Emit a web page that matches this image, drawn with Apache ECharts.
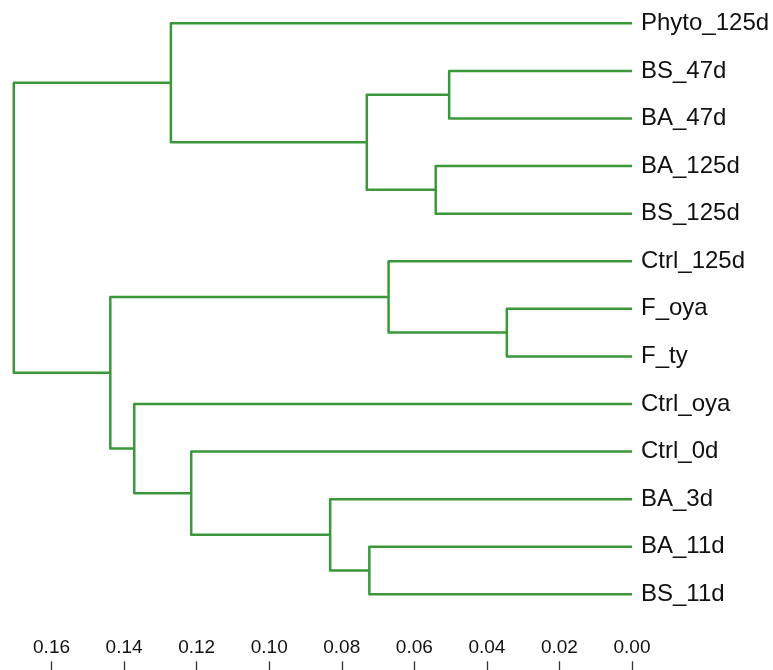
<!DOCTYPE html>
<html>
<head>
<meta charset="utf-8">
<title>Dendrogram</title>
<script src="https://cdn.jsdelivr.net/npm/echarts@6/dist/echarts.min.js"></script>
<style>
  html, body { margin: 0; padding: 0; background: #fff; }
  #main { width: 773px; height: 670px; }
</style>
</head>
<body>
<div id="main"></div>
<script>
// leaves, top to bottom
const leaves = ['Phyto_125d', 'BS_47d', 'BA_47d', 'BA_125d', 'BS_125d', 'Ctrl_125d',
  'F_oya', 'F_ty', 'Ctrl_oya', 'Ctrl_0d', 'BA_3d', 'BA_11d', 'BS_11d'];

// merges, R hclust style: negative = leaf (1-based), positive = earlier merge
const mergeLeft = [-7, -2, -4, -6, -12, 2, -11, -10, -1, -9, 4, 9];
const mergeRight = [-8, -3, -5, 1, -13, 3, 5, 7, 6, 8, 10, 11];
const mergeHeight = [0.0345, 0.0504, 0.0541, 0.0671, 0.0724, 0.0731, 0.0832,
  0.1215, 0.1271, 0.1372, 0.1438, 0.1704];

const xTicks = [0, 0.02, 0.04, 0.06, 0.08, 0.10, 0.12, 0.14, 0.16];

// position of a child: [height, row]
const nodePos = [];
function childPos(c) {
  if (c < 0) return [0, -c - 1];
  return nodePos[c - 1];
}
const segs = [];
for (let i = 0; i < mergeHeight.length; i++) {
  const a = childPos(mergeLeft[i]);
  const b = childPos(mergeRight[i]);
  const h = mergeHeight[i];
  nodePos.push([h, (a[1] + b[1]) / 2]);
  segs.push([h, a[0], a[1], b[0], b[1]]);
}

const chart = echarts.init(document.getElementById('main'));

const option = {
  animation: false,
  grid: { left: 13.8, right: 141, top: 23.3, bottom: 75.7 },
  xAxis: {
    type: 'value',
    position: 'bottom',
    inverse: true,
    min: 0,
    max: mergeHeight[mergeHeight.length - 1],
    interval: 0.02,
    offset: 77,
    splitLine: { show: false },
    axisLine: { show: true, onZero: false, lineStyle: { color: '#333', width: 1 } },
    axisTick: { show: true, inside: true, length: 10, lineStyle: { color: '#333', width: 1.3 } },
    axisLabel: {
      inside: true,
      margin: 14,
      showMaxLabel: false,
      color: '#111',
      fontSize: 19,
      fontFamily: 'Liberation Sans, Arial, sans-serif',
      formatter: v => xTicks.some(t => Math.abs(t - v) < 1e-9) ? v.toFixed(2) : ''
    }
  },
  yAxis: {
    type: 'value',
    min: 0,
    max: leaves.length - 1,
    interval: 1,
    inverse: true,
    position: 'right',
    axisLine: { show: false, onZero: false },
    axisTick: { show: false },
    splitLine: { show: false },
    axisLabel: {
      margin: 9,
      color: '#111',
      fontSize: 24,
      fontFamily: 'Liberation Sans, Arial, sans-serif',
      formatter: v => leaves[Math.round(v)] || ''
    }
  },
  series: [
    {
      type: 'custom',
      data: segs,
      encode: { x: 0, y: 2 },
      renderItem: function (params, api) {
        const h = api.value(0);
        const p1 = api.coord([api.value(1), api.value(2)]);
        const p2 = api.coord([h, api.value(2)]);
        const p3 = api.coord([h, api.value(4)]);
        const p4 = api.coord([api.value(3), api.value(4)]);
        return {
          type: 'polyline',
          shape: { points: [p1, p2, p3, p4] },
          style: { stroke: '#3a983a', lineWidth: 2.5, fill: null, lineJoin: 'round' }
        };
      }
    }
  ]
};

option && chart.setOption(option);
</script>
</body>
</html>
